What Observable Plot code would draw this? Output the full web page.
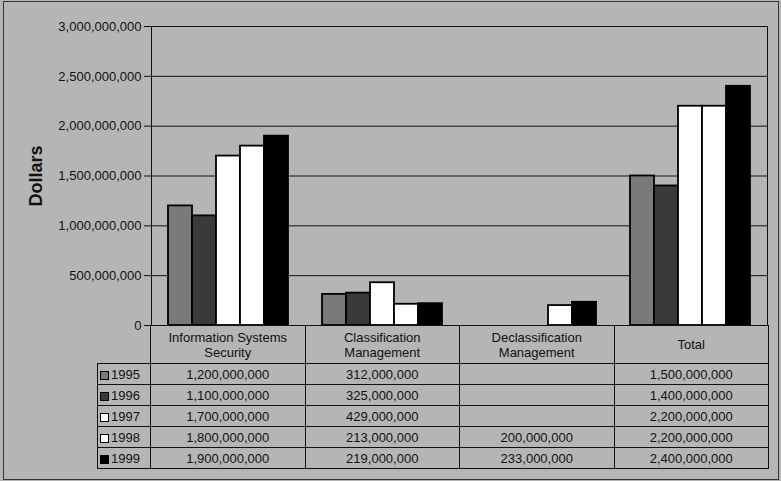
<!DOCTYPE html>
<html>
<head>
<meta charset="utf-8">
<script src="https://cdn.jsdelivr.net/npm/d3@7"></script>
<script src="https://cdn.jsdelivr.net/npm/@observablehq/plot@0.6"></script>
<style>
  body { margin: 0; background: #b5b5b5; }
  #wrap { position: relative; width: 781px; height: 481px; background: #b5b5b5; overflow: hidden;
          font-family: "Liberation Sans", Arial, sans-serif; color: #111; }
  #outer { position: absolute; left: 3px; top: 1px; width: 774px; height: 477px; border: 1px solid #333; pointer-events: none; }
  #rightedge { position: absolute; left: 767px; top: 26px; width: 0; height: 300px; border-right: 1px solid #111; }
  #chart { position: absolute; left: 0; top: 0; }
  #chart g[aria-label="y-axis label"] text { font-weight: bold; font-size: 18px; }
  #tbl { position: absolute; left: 97px; top: 325px; border-collapse: collapse; table-layout: fixed; width: 671px;
         font-size: 13px; }
  #tbl td, #tbl th { border: 1px solid #111; padding: 0; text-align: center; font-weight: normal; overflow: hidden; white-space: nowrap; }
  #tbl th { height: 37px; line-height: 15px; }
  #tbl td { height: 20px; }
  #tbl th.corner { border-top: none; border-left: none; border-bottom: 1px solid #111; }
  #tbl td.leg { text-align: left; padding-left: 2px; }
  .sw { display: inline-block; width: 7px; height: 7px; border: 1px solid #000; margin-right: 2px; vertical-align: -1px; }
</style>
</head>
<body>
<div id="wrap">
  <div id="chart"></div>
  <div id="rightedge"></div>
  <table id="tbl"></table>
  <div id="outer"></div>
</div>
<script>
// ---- data ----
const categories = ["Information Systems Security", "Classification Management", "Declassification Management", "Total"];
const headerLines = [["Information Systems", "Security"], ["Classification", "Management"], ["Declassification", "Management"], ["Total"]];
const years = ["1995", "1996", "1997", "1998", "1999"];
const infoSystemsSecurity = [1200000000, 1100000000, 1700000000, 1800000000, 1900000000];
const classificationMgmt = [312000000, 325000000, 429000000, 213000000, 219000000];
const declassificationMgmt = [null, null, null, 200000000, 233000000];
const totals = [1500000000, 1400000000, 2200000000, 2200000000, 2400000000];
const yTicks = [0, 500000000, 1000000000, 1500000000, 2000000000, 2500000000, 3000000000];
const yearFills = ["#7a7a7a", "#3a3a3a", "#ffffff", "#ffffff", "#000000"];

const seriesByCat = [infoSystemsSecurity, classificationMgmt, declassificationMgmt, totals];
const rows = [];
categories.forEach((c, ci) => years.forEach((y, yi) => {
  const v = seriesByCat[ci][yi];
  if (v != null) rows.push({cat: c, year: y, value: v});
}));

const fmt = d3.format(",");

const chart = Plot.plot({
  width: 781,
  height: 481,
  marginLeft: 150,
  marginRight: 13,
  marginTop: 26,
  marginBottom: 156,
  style: {background: "transparent", fontFamily: "'Liberation Sans', Arial, sans-serif", fontSize: "13px", color: "#111"},
  fx: {domain: categories, padding: 0, axis: null, label: null},
  x: {domain: years, paddingInner: 0, paddingOuter: 0.7, axis: null},
  y: {domain: [0, 3000000000], ticks: yTicks, tickFormat: fmt, tickSize: 7, line: true,
      label: "Dollars", labelAnchor: "center", labelArrow: "none", labelOffset: 122},
  color: {domain: years, range: yearFills},
  marks: [
    Plot.ruleY(yTicks, {stroke: "#111", strokeWidth: 1}),
    Plot.barY(rows, {fx: "cat", x: "year", y: "value", fill: "year", stroke: "#000", strokeWidth: 1.8})
  ]
});
document.getElementById("chart").appendChild(chart);

// ---- data table ----
const tbl = document.getElementById("tbl");
const colgroup = document.createElement("colgroup");
[53, 154.5, 154.5, 154.5, 154.5].forEach(w => {
  const col = document.createElement("col"); col.style.width = w + "px"; colgroup.appendChild(col);
});
tbl.appendChild(colgroup);
const hr = document.createElement("tr");
const corner = document.createElement("th"); corner.className = "corner"; hr.appendChild(corner);
headerLines.forEach(lines => {
  const th = document.createElement("th");
  th.innerHTML = lines.join("<br>");
  hr.appendChild(th);
});
tbl.appendChild(hr);
years.forEach((y, yi) => {
  const tr = document.createElement("tr");
  const leg = document.createElement("td"); leg.className = "leg";
  const sw = document.createElement("span"); sw.className = "sw"; sw.style.background = yearFills[yi];
  leg.appendChild(sw); leg.appendChild(document.createTextNode(y));
  tr.appendChild(leg);
  seriesByCat.forEach(series => {
    const td = document.createElement("td");
    td.textContent = series[yi] == null ? "" : fmt(series[yi]);
    tr.appendChild(td);
  });
  tbl.appendChild(tr);
});
</script>
</body>
</html>
